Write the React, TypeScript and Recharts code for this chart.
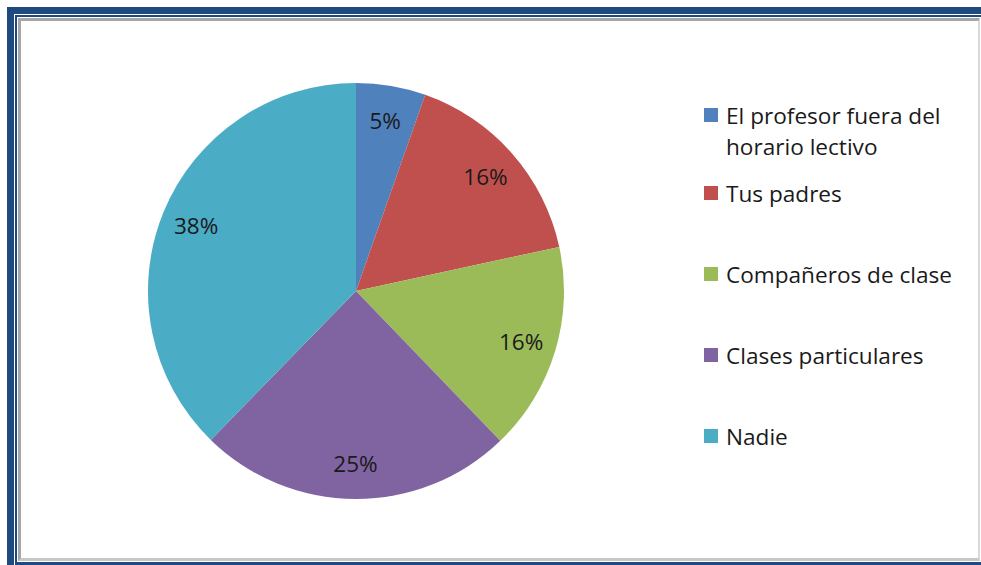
import { Pie, PieChart, Cell } from "recharts";

const categories = [
  "El profesor fuera del horario lectivo",
  "Tus padres",
  "Compañeros de clase",
  "Clases particulares",
  "Nadie",
];
const values = [5.4, 16.2, 16.2, 24.5, 37.7];
const labelTexts = ["5%", "16%", "16%", "25%", "38%"];
const colors = ["#4F81BD", "#C0504D", "#9BBB59", "#8064A2", "#4BACC6"];

const data = categories.map((name, i) => ({ name, value: values[i], label: labelTexts[i] }));

const FONT = "'Open Sans', Lato, sans-serif";
const NAVY = "#1F4A7E";

const RAD = Math.PI / 180;

function renderLabel(props: any) {
  const { cx, cy, midAngle, outerRadius, index } = props;
  const r = outerRadius * 0.83;
  const x = cx + r * Math.cos(-midAngle * RAD);
  const y = cy + r * Math.sin(-midAngle * RAD);
  return (
    <text
      x={x}
      y={y}
      textAnchor="middle"
      dominantBaseline="central"
      fill="#1a1a1a"
      fontSize={22.5}
      fontFamily={FONT}
    >
      {labelTexts[index]}
    </text>
  );
}

// spacing between legend entries, uneven because first entry wraps
const legendGaps = [0, 16, 50, 50, 50];

function LegendBox() {
  return (
    <div
      style={{
        position: "absolute",
        left: 704,
        top: 100,
        width: 270,
        fontFamily: FONT,
        fontSize: 22.6,
        color: "#1a1a1a",
      }}
    >
      {categories.map((name, i) => (
        <div
          key={name}
          style={{ display: "flex", alignItems: "flex-start", marginTop: legendGaps[i], lineHeight: "31px" }}
        >
          <span
            style={{
              display: "inline-block",
              width: 14,
              height: 14,
              background: colors[i],
              marginTop: 8,
              marginRight: 8,
              flexShrink: 0,
            }}
          />
          <span style={{ width: 235 }}>{name}</span>
        </div>
      ))}
    </div>
  );
}

export default function App() {
  return (
    <div style={{ position: "fixed", left: 0, top: 0, width: 981, height: 565, background: "#fff", overflow: "hidden" }}>
      {/* outer navy frame */}
      <div style={{ position: "absolute", left: 7, top: 7, width: 974, height: 7, background: NAVY }} />
      <div style={{ position: "absolute", left: 7, top: 7, width: 7, height: 558, background: NAVY }} />
      {/* inner thin navy line */}
      <div style={{ position: "absolute", left: 15, top: 15, width: 966, height: 2, background: NAVY }} />
      <div style={{ position: "absolute", left: 15, top: 15, width: 2, height: 550, background: NAVY }} />
      <div style={{ position: "absolute", left: 15, top: 562, width: 966, height: 3, background: NAVY }} />
      {/* gray chart area border */}
      <div
        style={{
          position: "absolute",
          left: 18,
          top: 18,
          width: 962,
          height: 543,
          boxSizing: "border-box",
          border: "3px solid #a6a6a6",
          borderRight: "2px solid #d9d9d9",
          borderBottom: "3px solid #c8c8c8",
          background: "#fff",
        }}
      />
      <div style={{ position: "absolute", left: 0, top: 0 }}>
        <PieChart width={981} height={565} margin={{ top: 0, right: 0, bottom: 0, left: 0 }}>
          <Pie
            data={data}
            dataKey="value"
            nameKey="name"
            cx={356}
            cy={291}
            outerRadius={208}
            startAngle={90}
            endAngle={-270}
            stroke="none"
            label={renderLabel}
            labelLine={false}
            isAnimationActive={false}
          >
            {data.map((d, i) => (
              <Cell key={d.name} fill={colors[i]} />
            ))}
          </Pie>
        </PieChart>
      </div>
      <LegendBox />
    </div>
  );
}
